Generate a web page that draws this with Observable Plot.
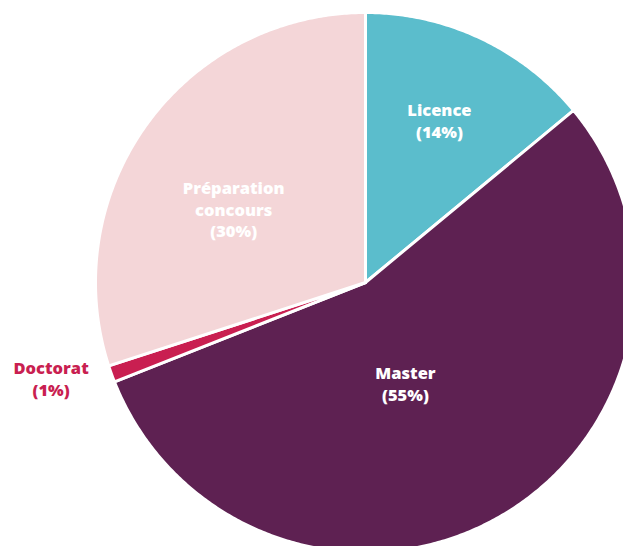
<!DOCTYPE html>
<html>
<head>
<meta charset="utf-8">
<script src="https://cdn.jsdelivr.net/npm/d3@7"></script>
<script src="https://cdn.jsdelivr.net/npm/@observablehq/plot@0.6"></script>
<style>
  html, body { margin: 0; padding: 0; background: #ffffff; }
  #chart svg { display: block; }
</style>
</head>
<body>
<div id="chart"></div>
<script>
// ---- data ----
const categories = ["Licence", "Master", "Doctorat", "Préparation\nconcours"];
const shares = [14, 55, 1, 30];
const colors = ["#5bbdcc", "#5e2152", "#c91f51", "#f4d6d8"];
const labelColors = ["#ffffff", "#ffffff", "#c91f51", "#ffffff"];
// label placement: radial factor and angle nudge (degrees)
const labelRadius = [0.66, 0.40, 1.217, 0.56];
const labelNudge = [-0.7, 8.9, 2.9, -6.7];

// ---- geometry ----
const W = 623, H = 546;
const cx = 365, cy = 282, R = 270;
const total = d3.sum(shares);
let acc = 0;
const slices = categories.map((c, i) => {
  const a0 = acc / total * 2 * Math.PI;
  acc += shares[i];
  const a1 = acc / total * 2 * Math.PI;
  return {name: c, share: shares[i], a0, a1, color: colors[i], i};
});

const pts = [];
for (const s of slices) {
  pts.push({k: s.name, x: 0, y: 0});
  const n = Math.max(2, Math.ceil((s.a1 - s.a0) / (Math.PI / 360)));
  for (let j = 0; j <= n; j++) {
    const a = s.a0 + (s.a1 - s.a0) * j / n;
    pts.push({k: s.name, x: R * Math.sin(a), y: R * Math.cos(a)});
  }
  pts.push({k: s.name, x: 0, y: 0});
}

const labels = slices.map(s => {
  const a = (s.a0 + s.a1) / 2 + labelNudge[s.i] * Math.PI / 180;
  const r = R * labelRadius[s.i];
  return {
    text: `${s.name}\n(${s.share}%)`,
    x: r * Math.sin(a),
    y: r * Math.cos(a),
    color: labelColors[s.i]
  };
});

const chart = Plot.plot({
  width: W,
  height: H,
  margin: 0,
  x: {domain: [-cx, W - cx], axis: null},
  y: {domain: [-(H - cy), cy], axis: null},
  color: {domain: categories, range: colors},
  style: {background: "#ffffff", overflow: "hidden"},
  marks: [
    Plot.line(pts, {
      x: "x", y: "y", z: "k",
      fill: "k",
      stroke: "#ffffff",
      strokeWidth: 3,
      strokeLinejoin: "round",
      curve: "linear"
    }),
    Plot.text(labels, {
      x: "x", y: "y", text: "text",
      fill: d => d.color,
      fontFamily: "'Open Sans', Lato, sans-serif",
      fontWeight: 800,
      fontSize: 16.5,
      lineHeight: 1.33,
      textAnchor: "middle"
    })
  ]
});
document.getElementById("chart").appendChild(chart);
</script>
</body>
</html>
